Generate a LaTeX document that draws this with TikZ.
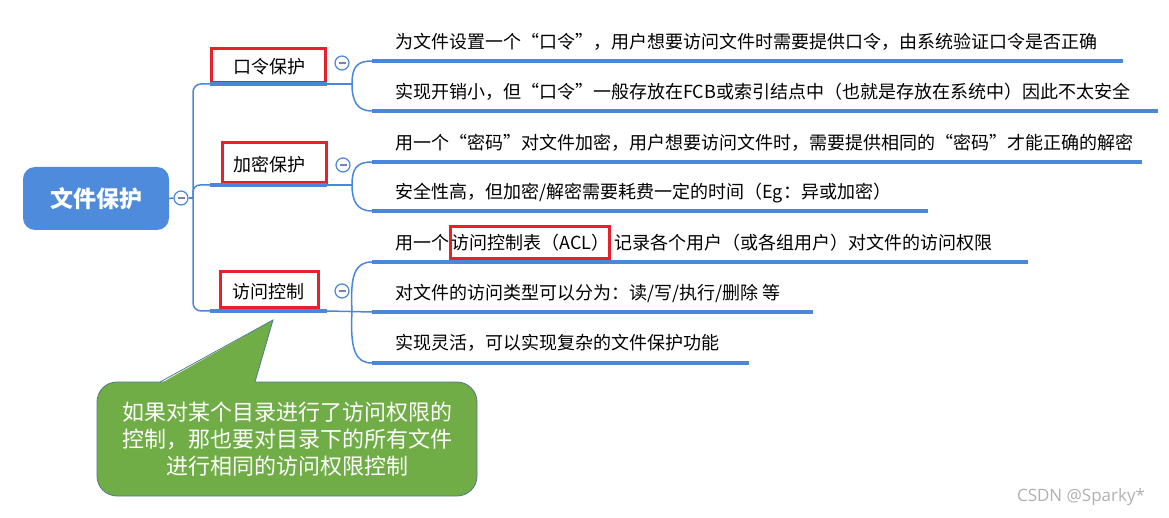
\documentclass[tikz,border=0pt]{standalone}
\usepackage{fontspec}
\setmainfont{Noto Sans CJK SC}
\newfontfamily\wmfont{Open Sans}
\definecolor{mblue}{HTML}{4A86D9}
\definecolor{rootblue}{HTML}{4E8BDC}
\definecolor{mred}{HTML}{E8202A}
\definecolor{minusc}{HTML}{7B7FB5}
\definecolor{notegreen}{HTML}{70AD47}
\definecolor{noteborder}{HTML}{4F7A8E}
\definecolor{wmgray}{HTML}{B0B0B0}
\begin{document}
\begin{tikzpicture}[x=1pt,y=-1pt,
  conn/.style={draw=mblue, line width=1.5pt},
  uline/.style={draw=mblue, line width=4pt},
  redbox/.style={draw=mred, line width=3pt},
  leaf/.style={anchor=west, inner sep=0pt, font=\fontsize{18}{22}\selectfont},
  lbl/.style={inner sep=0pt, font=\fontsize{18}{22}\selectfont},
  collapse/.style={circle, draw=mblue, fill=white, line width=1.2pt, minimum size=14pt, inner sep=0pt,
    path picture={\draw[minusc, line width=1.3pt] ([xshift=-3.5pt]path picture bounding box.center) -- ([xshift=3.5pt]path picture bounding box.center);}},
  rootbox/.style={fill=rootblue, rounded corners=12pt, minimum width=146pt, minimum height=63pt, text=white,
    font=\fontsize{23}{26}\selectfont\bfseries},
  callout/.style={fill=notegreen, draw=noteborder, line width=0.8pt, rounded corners=20pt, minimum width=380pt,
    minimum height=114pt, text=white, align=center, font=\fontsize{22}{27}\selectfont}
]
\useasboundingbox (0,0) rectangle (1169,518);

% root
\node[rootbox] (root) at (96,198.5) {文件保护};
\node[collapse] (c0) at (181,198) {};
\coordinate (trunk) at (193,198);
\draw[conn] (root.east) -- (c0.west);
\draw[conn] (c0.east) -- (trunk);

% trunk
\coordinate (u1s) at (210,84);  \coordinate (u1e) at (327,84);
\coordinate (u2s) at (210,185); \coordinate (u2e) at (327,185);
\coordinate (u3s) at (210,311); \coordinate (u3e) at (327,311);
\draw[conn, rounded corners=8pt] (u1s) -- (193,84) -- (193,311) -- (u3s);
\draw[conn, rounded corners=7pt] (trunk) -- (193,185) -- (u2s);

% level-1 nodes
\node[lbl] (n1) at (269.5,67) {口令保护};
\draw[redbox] (211,49) rectangle (325,83);
\draw[uline] (u1s) -- (u1e);
\node[collapse] (c1) at (342,63) {};

\node[lbl] (n2) at (269,165) {加密保护};
\draw[redbox] (222,143) rectangle (326,183);
\draw[uline] (u2s) -- (u2e);
\node[collapse] (c2) at (343,165) {};

\node[lbl] (n3) at (268,292) {访问控制};
\draw[redbox] (220,272) rectangle (318,308);
\draw[uline] (u3s) -- (u3e);
\node[collapse] (c3) at (342,291) {};

% branch 1
\coordinate (b1) at (352,84);
\coordinate (l1s) at (372,61);  \coordinate (l1e) at (1123,61);
\coordinate (l2s) at (372,111); \coordinate (l2e) at (1158,111);
\draw[conn] (u1e) -- (b1);
\draw[conn] (b1) .. controls (352,67) and (357,61) .. (l1s);
\draw[conn] (b1) .. controls (352,101) and (357,111) .. (l2s);
\draw[uline] (l1s) -- (l1e);
\draw[uline] (l2s) -- (l2e);
\node[leaf] (t1) at (395,42) {为文件设置一个“口令”，用户想要访问文件时需要提供口令，由系统验证口令是否正确};
\node[leaf] (t2) at (395,92) {实现开销小，但“口令”一般存放在FCB或索引结点中（也就是存放在系统中）因此不太安全};

% branch 2
\coordinate (b2) at (352,185);
\coordinate (l3s) at (372,162); \coordinate (l3e) at (1142,162);
\coordinate (l4s) at (372,211); \coordinate (l4e) at (928,211);
\draw[conn] (u2e) -- (b2);
\draw[conn] (b2) .. controls (352,168) and (357,162) .. (l3s);
\draw[conn] (b2) .. controls (352,201) and (357,211) .. (l4s);
\draw[uline] (l3s) -- (l3e);
\draw[uline] (l4s) -- (l4e);
\node[leaf] (t3) at (395,143) {用一个“密码”对文件加密，用户想要访问文件时，需要提供相同的“密码”才能正确的解密};
\node[leaf] (t4) at (395,193) {安全性高，但加密/解密需要耗费一定的时间（Eg：异或加密）};

% branch 3
\coordinate (b3) at (352,311);
\coordinate (l5s) at (372,262); \coordinate (l5e) at (1028,262);
\coordinate (l6s) at (372,312); \coordinate (l6e) at (813,312);
\coordinate (l7s) at (372,363); \coordinate (l7e) at (749,363);
\draw[conn] (u3e) -- (l6s);
\draw[conn] (b3) .. controls (350,275) and (355,262) .. (l5s);
\draw[conn] (b3) .. controls (350,349) and (355,363) .. (l7s);
\draw[uline] (l5s) -- (l5e);
\draw[uline] (l6s) -- (l6e);
\draw[uline] (l7s) -- (l7e);
\node[leaf] (t5a) at (395,243) {用一个};
\node[leaf, redbox, inner xsep=0.5pt, minimum height=32pt] (t5b) at (t5a.east) {访问控制表（ACL）};
\node[leaf] (t5c) at ([xshift=3pt]t5b.east) {记录各个用户（或各组用户）对文件的访问权限};
\node[leaf] (t6) at (395,293) {对文件的访问类型可以分为：读/写/执行/删除 等};
\node[leaf] (t7) at (395,343) {实现灵活，可以实现复杂的文件保护功能};

% callout
\node[callout] (note) at (287,439) {如果对某个目录进行了访问权限的\\控制，那也要对目录下的所有文件\\进行相同的访问权限控制};
\coordinate (tip) at (273,320);
\fill[notegreen] (160.5,383.5) -- (tip) -- (254.5,383.5) -- cycle;
\draw[noteborder, line width=0.8pt] (160,382) -- (tip) -- (255,382);

% watermark
\node[text=wmgray, font=\wmfont\fontsize{17}{20}\selectfont, inner sep=0pt] (wm) at (1081,497) {CSDN @Sparky*};
\end{tikzpicture}
\end{document}
